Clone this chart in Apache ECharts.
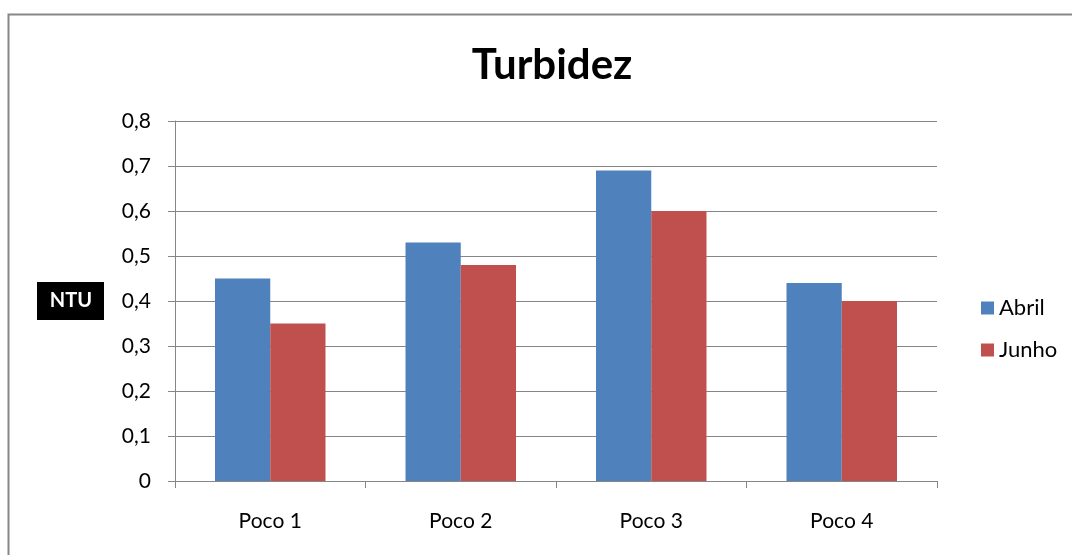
<!DOCTYPE html>
<html>
<head>
<meta charset="utf-8">
<script src="https://cdn.jsdelivr.net/npm/echarts@6/dist/echarts.min.js"></script>
<style>
  html, body { margin: 0; padding: 0; background: #fff; }
  #chart { width: 1072px; height: 555px; }
</style>
</head>
<body>
<div id="chart"></div>
<script>
var categories = ['Poco 1', 'Poco 2', 'Poco 3', 'Poco 4'];
var abril = [0.45, 0.53, 0.69, 0.44];
var junho = [0.35, 0.48, 0.60, 0.40];
var legendNames = ['Abril', 'Junho'];

var font = 'Lato, "Open Sans", sans-serif';
var axisGray = '#868686';

var myChart = echarts.init(document.getElementById('chart'));
var option = {
    backgroundColor: '#fff',
    animation: false,
    title: {
        text: 'Turbidez',
        left: 547,
        top: 39,
        textAlign: 'center',
        textStyle: {
            fontFamily: font,
            fontWeight: 'bold',
            fontSize: 42,
            color: '#000'
        }
    },
    legend: {
        data: legendNames,
        orient: 'vertical',
        left: 976,
        top: 292,
        icon: 'rect',
        itemWidth: 13,
        itemHeight: 13,
        itemGap: 20,
        textStyle: {
            fontFamily: font,
            fontSize: 22,
            color: '#000'
        }
    },
    grid: { left: 175, right: 135, top: 121, bottom: 74 },
    xAxis: {
        type: 'category',
        data: categories,
        axisLine: { lineStyle: { color: axisGray, width: 1 } },
        axisTick: { show: true, length: 7, lineStyle: { color: axisGray } },
        axisLabel: {
            fontFamily: font,
            fontSize: 21,
            color: '#000',
            margin: 30
        },
        splitLine: { show: false }
    },
    yAxis: {
        type: 'value',
        min: 0,
        max: 0.8,
        interval: 0.1,
        axisLine: { show: true, lineStyle: { color: axisGray, width: 1 } },
        axisTick: { show: true, length: 7, lineStyle: { color: axisGray } },
        axisLabel: {
            fontFamily: font,
            fontSize: 21,
            color: '#000',
            margin: 24,
            formatter: function (v) {
                return v === 0 ? '0' : v.toFixed(1).replace('.', ',');
            }
        },
        splitLine: { lineStyle: { color: axisGray, width: 1 } }
    },
    series: [{
        name: legendNames[0],
        type: 'bar',
        data: abril,
        barGap: '0%',
        barCategoryGap: '42%',
        itemStyle: { color: '#4F81BD' }
    }, {
        name: legendNames[1],
        type: 'bar',
        data: junho,
        barGap: '0%',
        barCategoryGap: '42%',
        itemStyle: { color: '#C0504D' }
    }],
    graphic: [{
        type: 'rect',
        shape: { x: 8.5, y: 14.5, width: 1200, height: 700 },
        style: { fill: 'none', stroke: '#878787', lineWidth: 2 },
        silent: true
    }, {
        type: 'rect',
        shape: { x: 37, y: 282, width: 67, height: 38 },
        style: { fill: '#000' },
        silent: true
    }, {
        type: 'text',
        x: 71,
        y: 301,
        style: {
            text: 'NTU',
            fill: '#fff',
            font: 'bold 20px ' + font,
            textAlign: 'center',
            textVerticalAlign: 'middle'
        },
        silent: true
    }]
};
myChart.setOption(option);
</script>
</body>
</html>
